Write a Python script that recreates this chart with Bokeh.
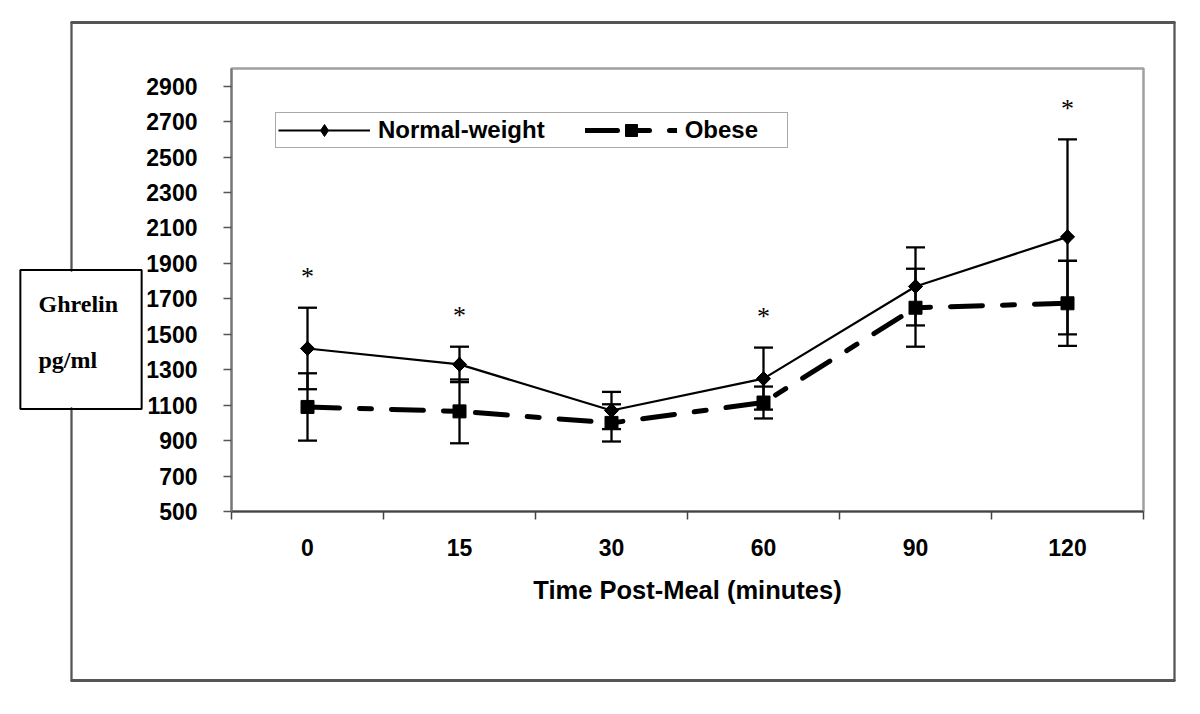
import numpy as np
from bokeh.plotting import figure
from bokeh.models import (ColumnDataSource, Whisker, TeeHead, FixedTicker, Legend,
                          LegendItem, Label, Range1d)
from bokeh.embed import file_html
from bokeh.resources import INLINE
from bokeh.core.properties import value

# ---- data ----
time_labels = ["0", "15", "30", "60", "90", "120"]
normal_mean = [1420, 1330, 1070, 1250, 1770, 2050]
normal_err = [230, 100, 105, 175, 220, 550]
obese_mean = [1090, 1065, 1000, 1115, 1650, 1675]
obese_err = [190, 180, 105, 90, 220, 240]
significant = [True, True, False, True, False, True]
y_ticks = [500, 700, 900, 1100, 1300, 1500, 1700, 1900, 2100, 2300, 2500, 2700, 2900]

x = [i + 0.5 for i in range(len(time_labels))]
src = ColumnDataSource(dict(
    x=x,
    nm=normal_mean,
    nlo=[m - e for m, e in zip(normal_mean, normal_err)],
    nhi=[m + e for m, e in zip(normal_mean, normal_err)],
    om=obese_mean,
    olo=[m - e for m, e in zip(obese_mean, obese_err)],
    ohi=[m + e for m, e in zip(obese_mean, obese_err)],
))

W, H = 1195, 700
p = figure(width=W, height=H, output_backend="svg", toolbar_location=None,
           x_range=Range1d(0, len(time_labels)), y_range=Range1d(500, 3000),
           min_border_left=231, min_border_right=52, min_border_top=68,
           min_border_bottom=189)
p.title.visible = False
p.xgrid.visible = False
p.ygrid.visible = False
p.outline_line_color = "#a0a0a0"
p.outline_line_width = 2.5
p.background_fill_color = "white"
p.border_fill_color = "white"

FONT = "Liberation Sans"

# x axis
xa = p.xaxis[0]
xa.ticker = FixedTicker(ticks=x, minor_ticks=list(range(len(time_labels) + 1)))
xa.major_label_overrides = {xi: lab for xi, lab in zip(x, time_labels)}
xa.major_tick_in = 0
xa.major_tick_out = 0
xa.minor_tick_in = 0
xa.minor_tick_out = 8
xa.minor_tick_line_color = "#444444"
xa.minor_tick_line_width = 1.5
xa.axis_line_color = "#444444"
xa.axis_line_width = 2
xa.major_label_text_font = FONT
xa.major_label_text_font_style = "bold"
xa.major_label_text_font_size = "23px"
xa.major_label_text_color = "black"
xa.major_label_standoff = 19
xa.axis_label = "Time Post-Meal (minutes)"
xa.axis_label_text_font = FONT
xa.axis_label_text_font_style = "bold"
xa.axis_label_text_font_size = "25.5px"
xa.axis_label_text_color = "black"
xa.axis_label_standoff = 17

# y axis
ya = p.yaxis[0]
ya.ticker = FixedTicker(ticks=y_ticks, minor_ticks=[])
ya.major_tick_in = 0
ya.major_tick_out = 8
ya.major_tick_line_color = "#555555"
ya.major_tick_line_width = 1.5
ya.minor_tick_line_color = None
ya.axis_line_color = "#777777"
ya.axis_line_width = 2
ya.major_label_text_font = FONT
ya.major_label_text_font_style = "bold"
ya.major_label_text_font_size = "23px"
ya.major_label_text_color = "black"
ya.major_label_standoff = 26

# error bars
for lo, hi in (("nlo", "nhi"), ("olo", "ohi")):
    w = Whisker(source=src, base="x", lower=lo, upper=hi, dimension="height",
                line_color="black", line_width=2.3,
                upper_head=TeeHead(size=19, line_width=2.3, line_color="black"),
                lower_head=TeeHead(size=19, line_width=2.3, line_color="black"))
    p.add_layout(w)

# series
rn_line = p.line("x", "nm", source=src, line_width=2.2, line_color="black")
rn_mk = p.scatter("x", "nm", source=src, marker="square", angle=np.pi / 4, size=10,
                  fill_color="black", line_color="black")
rn_dia = p.scatter("x", "nm", source=src, marker="diamond", size=15,
                   fill_color="black", line_color="black")
ro_line = p.line("x", "om", source=src, line_width=5, line_color="black",
                 line_dash="32 20 12 20", line_cap="round")
ro_mk = p.scatter("x", "om", source=src, marker="square", size=13,
                  fill_color="black", line_color="black")

# significance stars
star_x = [xi for xi, s in zip(x, significant) if s]
star_y = [m + e + 175 for m, e, s in zip(normal_mean, normal_err, significant) if s]
p.text(x=star_x, y=star_y, text=["*"] * len(star_x), text_font=value("Liberation Serif"),
       text_font_size="26px", text_align="center", text_baseline="alphabetic",
       text_color="black")

# legend
legend = Legend(items=[LegendItem(label="Normal-weight", renderers=[rn_line, rn_dia]),
                       LegendItem(label="Obese", renderers=[ro_line, ro_mk])],
                location=(44, 363), orientation="horizontal",
                glyph_width=92, glyph_height=30, label_standoff=8, spacing=40,
                padding=2, margin=0, label_width=100, label_height=20,
                label_text_font=FONT, label_text_font_style="bold",
                label_text_font_size="24px", label_text_color="black",
                border_line_color="#555555", border_line_width=1.2,
                background_fill_color="white", background_fill_alpha=1.0)
p.add_layout(legend)


# ---- decorations outside the plot frame ----
# Drawn as padded empty labels placed in side panels (annotations in the
# centre are clipped to the frame).
def box(x0, y0, x1, y1, color, lw, side):
    w, h = x1 - x0, y1 - y0
    lab = Label(x=(x0 + x1) / 2, y=(y0 + y1) / 2, x_units="canvas", y_units="canvas",
                text=" ", text_font_size="1px", text_align="center",
                text_baseline="middle",
                padding=dict(left=int(w // 2), right=int(w - w // 2),
                             top=int(h // 2), bottom=int(h - h // 2)),
                border_line_color=color, border_line_width=lw,
                background_fill_color=None, level="overlay")
    p.add_layout(lab, side)


FRAME_C = "#555555"
# outer frame: horizontal edges in the top panel, vertical edges in the left panel
box(71, 22, 1174, 22, FRAME_C, 2, "above")
box(71, 680, 1174, 680, FRAME_C, 2, "above")
box(71, 22, 71, 270, FRAME_C, 2, "left")
box(71, 408, 71, 680, FRAME_C, 2, "left")
box(1174, 22, 1174, 680, FRAME_C, 2, "left")
# y-axis title box
box(20, 270, 141, 408, "black", 2, "left")
for txt, yy in (("Ghrelin", 303), ("pg/ml", 359)):
    p.add_layout(Label(x=38, y=yy, x_units="canvas", y_units="canvas", text=txt,
                       text_font="Liberation Serif", text_font_style="bold",
                       text_font_size="24px", text_color="black",
                       text_baseline="alphabetic", level="overlay"), "below")

open("out.html", "w").write(file_html(p, INLINE))
